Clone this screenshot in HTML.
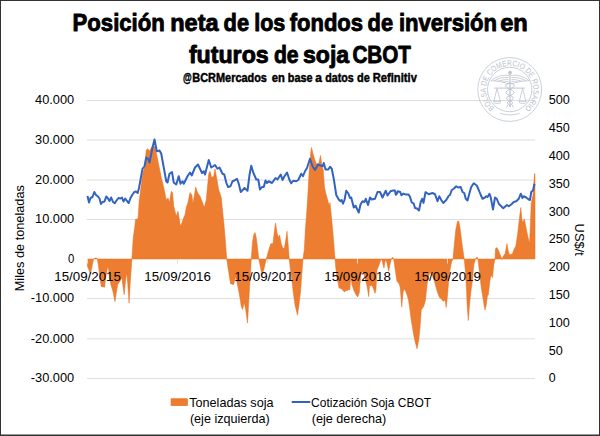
<!DOCTYPE html>
<html><head><meta charset="utf-8"><title>Posición neta de los fondos de inversión en futuros de soja CBOT</title>
<style>
html,body{margin:0;padding:0;background:#fff;}
body{width:600px;height:436px;overflow:hidden;position:relative;font-family:"Liberation Sans",sans-serif;}
svg{position:absolute;left:0;top:0;display:block;}
svg text{font-family:"Liberation Sans",sans-serif;fill:#000;}
</style></head><body>
<svg width="600" height="436" viewBox="0 0 600 436">
<rect x="0" y="0" width="600" height="436" fill="#fff"/>
<!-- gridlines -->
<line x1="87" x2="535" y1="100.5" y2="100.5" stroke="#dedede" stroke-width="1"/>
<line x1="87" x2="535" y1="140.0" y2="140.0" stroke="#dedede" stroke-width="1"/>
<line x1="87" x2="535" y1="180.0" y2="180.0" stroke="#dedede" stroke-width="1"/>
<line x1="87" x2="535" y1="219.5" y2="219.5" stroke="#dedede" stroke-width="1"/>
<line x1="87" x2="535" y1="298.6" y2="298.6" stroke="#dedede" stroke-width="1"/>
<line x1="87" x2="535" y1="338.8" y2="338.8" stroke="#dedede" stroke-width="1"/>
<line x1="87" x2="535" y1="378.5" y2="378.5" stroke="#dedede" stroke-width="1"/>


<g fill="none" stroke="#bcc4d0" stroke-width="0.8">
<circle cx="509.7" cy="89.5" r="31.9"/>
<circle cx="509.7" cy="89.5" r="22.2"/>
<path id="sealarc" d="M 494.62,107.79 A 23.7,23.7 0 1 1 524.78,107.79" stroke="none"/>
<text style="fill:#b8c0cc;font-size:8px" stroke="none"><textPath href="#sealarc" startOffset="0" textLength="116.2" lengthAdjust="spacingAndGlyphs">BOLSA DE COMERCIO DE ROSARIO</textPath></text>
<!-- caduceus staff -->
<line x1="510" y1="73" x2="510" y2="107" stroke-width="1.2"/>
<circle cx="510" cy="72.6" r="1.5" fill="#bcc4d0"/>
<!-- wings -->
<path d="M509,75.6 C503,74.4 496,76.5 490.8,80.8 C496,80.6 501,81.4 505.5,82.8 M508.5,77.6 C503,77 497.5,78.4 494,81 M508.5,79.6 C504,79.4 500,80.4 497.5,81.8 M508.5,81.4 C506,81.4 503.5,82 502,82.6" />
<path d="M511,75.6 C517,74.4 524,76.5 529.2,80.8 C524,80.6 519,81.4 514.5,82.8 M511.5,77.6 C517,77 522.5,78.4 526,81 M511.5,79.6 C516,79.4 520,80.4 522.5,81.8 M511.5,81.4 C514,81.4 516.5,82 518,82.6" />
<!-- snakes -->
<path d="M505.6,84.2 C507,82.6 513,83 514,85.4 C515,88.4 506,89.6 506,92.4 C506,95.2 513.4,95.6 513.4,98.2 C513.4,100.4 507.4,100.8 507.4,102.8 C507.4,104.2 510,104.6 510,105.6" stroke-width="1"/>
<path d="M514.4,84.2 C513,82.6 507,83 506,85.4 C505,88.4 514,89.6 514,92.4 C514,95.2 506.6,95.6 506.6,98.2 C506.6,100.4 512.6,100.8 512.6,102.8 C512.6,104.2 510,104.6 510,105.6" stroke-width="1"/>
<path d="M508,104.5 L506.5,107.6 M512,104.5 L513.5,107.6" />
<!-- beam -->
<path d="M494.5,88.1 L525.2,88.1" stroke-width="1"/>
<!-- pans -->
<path d="M497,88.4 L493.9,101.2 M497,88.4 L500.4,101.2 M493.2,101.4 L501.2,101.4 M493.6,102.6 C495.4,103.8 499,103.8 500.8,102.6" />
<path d="M522.6,88.4 L519.3,101.2 M522.6,88.4 L525.8,101.2 M518.6,101.4 L526.6,101.4 M519,102.6 C520.8,103.8 524.4,103.8 526.2,102.6" />
<path d="M500.4,113.4 C506,115.4 514,115.4 519.6,113.4" />
</g>

<!-- area series -->
<polygon fill="#ed7d31" stroke="#ea6c18" stroke-width="0.5" stroke-linejoin="round" points="87.4,259 87.4,266 90.5,274 93.6,259 94,259 95,258 96.7,258 97.4,259 99.1,270.6 101.2,286.5 104.6,287.2 105.6,277.5 106.7,272.7 107.7,265.8 108.8,270.6 110.8,284.4 112.9,291.3 115,301.6 116.3,292.7 117.7,284.4 120.1,281 121.8,277.5 122.9,285.8 124.2,294.7 125,285.8 126,277.5 126.8,272.7 127.8,284.4 129.1,303 130.1,284.4 131.1,270.6 131.9,259 133.25,237.5 135,225 135.5,219.5 138,218.75 139.25,200 140,195 142.5,175 144.5,167.5 146.25,150 148,148.75 149.5,151.25 150.75,148.75 152.5,146.25 154.5,146.25 156.25,152.5 158.75,165 161.25,177.5 163.75,187.5 166.25,200 168,198 169.5,202.5 171.25,191.25 172.5,192.5 173.75,206.25 176.25,216.25 178,211.25 180,223.75 180.75,226.25 183.75,217.5 185,215 186.25,207.5 188,202.5 190,192.5 191.75,195 193,203.75 195.75,187 197.5,192.5 200,196.25 202.5,202.5 204.25,207.5 206.25,200 208.75,173.75 210,171.25 211.75,177.5 213.75,176.25 215,168.75 217,180 218.75,190 220.5,195 221.25,197.5 222.5,210 224,225 225.3,240 226.75,259 228.75,272.5 230.5,283.75 233.75,284.5 235.5,276.25 237,282.5 239.5,295 241.25,306.25 242.5,309.5 244.25,302.5 245.75,310 247.5,323 248.25,310 249.25,292.5 250.5,272.5 251.25,259 252.5,242.5 253.75,235 255,232.5 256.25,237.5 257.5,247.5 258.75,259 260,265 262,275 263.75,270 266.25,259 268.75,250 270.75,243.75 273,243.75 274.25,232.5 275.5,223 277,232.5 278.25,237.5 279.5,235 281.25,243.75 283,248.75 284.5,247.5 285.75,240 287,231.25 288,242.5 289.25,259 290.75,272.5 292.5,285 293.25,292.5 295,305 297.5,315.2 299.25,302.5 300.5,292 301.75,275 303,259 304.25,250 305.5,228 306.75,212 308,192.5 309.25,170 310.5,155 311.5,147.5 313,153.75 314.5,158.75 316.25,163.75 318.75,163.75 320.5,155.5 322,166.25 323.25,170 324.5,187.5 326.25,195 328,201.25 329.25,206.25 330,202.5 331.25,215 332.5,228 333.75,242.5 335,259 336,270 337.3,279.3 339.1,288 341.3,288.7 342.7,290 344.4,292 346,290.7 348.7,289.7 349.7,290 350.9,276 352,284.7 354,290.7 356,294.7 357.7,296.9 359.3,292.7 360.75,275 362.5,271 364,274 365.5,280 366.7,284.7 367.7,290 368.7,296.7 369.6,284 370.5,286 371.6,285.3 372.9,287.3 375.1,293.3 376,288.7 376.9,270 378.7,266 380.7,260 381.7,259 382.7,263.3 384,268 384.9,262 386,260 387,263.3 388.7,271.3 390,264.7 391.3,259 392.7,257.3 393.7,259 394.7,266 396,275.3 397,281.3 398.7,283.3 400.2,287 401.75,307 403,292 404.7,288.7 406.7,294 408.4,299.3 409.25,305 411.25,320 413.25,332.5 415,341.25 417,348.75 418.75,340 420,327.5 421.25,310 423.75,306.25 425.5,300 427,285 428.25,277.5 430,272.5 432,275 433.75,278.75 435.75,286.25 437.5,292.5 439.5,297.5 441.25,298.75 443.25,301.25 445,300 446.25,307.5 447.5,295 448.75,280 450,270 451.75,261.25 453,259 454.25,245 455.75,230 457.5,221.25 458.75,221.25 460,227.5 461.25,237.5 462.5,247.5 464.25,259 465.5,272.5 466.75,295 467,302.5 468.25,320.5 469.5,305 470.75,292.5 472.5,280 473.75,265 475.5,259 477,257 478,259 479.5,272.5 481.25,287.5 482.5,295 484.25,306.25 485,310 486.25,305 487.5,295 488.25,295 490,280 491.25,275 492.5,277.5 493.75,265 495,259 495.5,248.75 497,247.5 498.75,251.25 500.75,256.25 502,259.5 503.25,256.25 505,253.75 507,243.75 508,250 509.5,255 512.5,253.75 514.25,248.75 515.75,246.25 517.5,235 519.25,220 520.75,207.5 522,220 523,222.5 524.25,218.75 525.75,226.25 527.5,235 529.5,243.75 530.5,222.5 531.25,202.5 533,195 534.5,173.75 535,173.75 535,259"/>
<!-- zero axis + ticks -->
<line x1="87" x2="535" y1="259" y2="259" stroke="#d9d9d9" stroke-width="1" opacity="0.0"/>
<line x1="87.5" x2="87.5" y1="259" y2="263.5" stroke="#dedede" stroke-width="1"/>
<line x1="177.5" x2="177.5" y1="259" y2="263.5" stroke="#dedede" stroke-width="1"/>
<line x1="267.5" x2="267.5" y1="259" y2="263.5" stroke="#dedede" stroke-width="1"/>
<line x1="357.5" x2="357.5" y1="259" y2="263.5" stroke="#dedede" stroke-width="1"/>
<line x1="447.5" x2="447.5" y1="259" y2="263.5" stroke="#dedede" stroke-width="1"/>

<!-- line series -->
<polyline fill="none" stroke="#3263c0" stroke-width="2" stroke-linejoin="round" stroke-linecap="butt" points="87.5,196 89,202.5 90.5,198 92.5,197 94.3,192 96,195 98,196.5 99.5,198.5 101,204 102.5,202 104.5,201.5 106.2,196.5 108,198.5 109.5,201 111.2,197.5 113,202 114.8,203.2 116.5,200.5 118.5,198 120.5,198.5 122,197.5 123.5,201.5 125.2,198.5 127,201 128.7,203 130.5,198 132.5,194.5 134.3,192 136,191.5 137.7,193 139,188 140.3,181 142.5,168.75 144.5,166.25 146.25,157.5 148,158.75 149.5,162.5 152.5,147.5 154.5,139.5 156.75,151.25 159.5,150.5 161.25,153.75 163.75,167.5 166.25,181.25 167.5,182.5 169.5,173.75 172,172 173.75,182.5 176.25,184.5 178.75,176.25 180.5,183.75 182.5,181.25 183.75,183.75 187.5,176.25 190,172.5 191.75,175.5 195,167.5 198,164.5 200,168.75 202,173 203.75,171.25 205,174.5 208.75,160 211.25,167.5 213.25,166.25 215,165 217.5,168.75 219.5,167.5 222.5,173.75 224.25,174.5 226.25,182.5 228,187 230.5,186.25 232.5,181.25 234.5,180.5 237,178.75 238.75,183.75 240.75,192 244.5,188 247.5,190.75 249.5,175 251.25,165.75 253.25,172.5 256.25,179.5 258.25,179.5 260,189.5 262,187 263.75,187 265.5,180.5 267,183 268.75,181.25 272,183 275.5,178 277.5,179.5 280.75,174.5 282.5,180 284.5,176.25 287,172.5 289.5,180 291.25,183.25 293.25,180.75 296.25,181.25 298.25,180 301.25,173.75 303,176.25 305,171.25 307,168 310,158.75 312.5,166.25 315,170 318,164.5 320.75,165.5 322.5,166.25 323.75,163 325.5,169.5 328.25,169.5 330,166.75 331.75,168.75 333.75,178.75 336.25,195 338.75,199.5 340.5,201.25 341.75,200 343,203.75 344.5,200 346.25,190.75 348.25,193.25 350,198 351.25,197.5 353.75,207.5 355.5,205.75 358.75,212.5 360.5,204.5 362.5,201.25 364.5,202 365.75,198.75 368,205 370,197.5 371.75,199.5 375,198.75 377.5,192 380,192 382.5,197.5 385.75,190.75 387.5,195.5 390.5,191.25 393,190.5 395,190.6 395.8,194.8 396.6,194 397.8,191.2 400.2,192 401.4,195.2 403.4,193.6 405.4,194.4 408.6,194.4 409.8,196.4 411.8,202.5 413.8,203.7 415,208.1 417,208.5 419,210.5 420.7,202 422.3,198.8 423.5,202.9 425.5,192.2 428.75,194.25 432.5,193 435,194.25 437.5,201.25 439.25,196.25 441.25,200 443.25,203 446.25,200 448.75,195.75 450,195 451.75,190 453.75,188.75 456.25,186.25 458.25,187.5 460.75,187 462.5,192 464.25,193 465.75,198.75 467.5,200.5 470,191.25 471.25,187 473.75,183.25 476.75,185.5 478.75,190 480.75,195 482.5,198.75 485,197.5 486.25,196.25 487.5,197 489.5,193.75 490.75,197.5 493,209.5 495,197.5 496.75,198.75 498.75,203.75 501.25,206.25 503.25,208.25 507,205 508.75,206.25 511.25,204.5 513.75,202 516.25,201.25 518.75,198.75 520.75,193.75 522.5,198 523.75,196.25 526.25,197.5 528.75,199.5 530,200 531.25,192 533,190.5 534.5,183.75"/>
<!-- axis labels -->
<g>
<text x="35.0" y="104.3" font-size="12.3" font-weight="normal" text-anchor="start" textLength="39.2" lengthAdjust="spacingAndGlyphs">40.000</text>
<text x="35.0" y="143.8" font-size="12.3" font-weight="normal" text-anchor="start" textLength="39.2" lengthAdjust="spacingAndGlyphs">30.000</text>
<text x="35.0" y="183.8" font-size="12.3" font-weight="normal" text-anchor="start" textLength="39.2" lengthAdjust="spacingAndGlyphs">20.000</text>
<text x="35.0" y="223.3" font-size="12.3" font-weight="normal" text-anchor="start" textLength="39.2" lengthAdjust="spacingAndGlyphs">10.000</text>
<text x="67.9" y="263.0" font-size="12.3" font-weight="normal" text-anchor="start" textLength="6.3" lengthAdjust="spacingAndGlyphs">0</text>
<text x="30.800000000000004" y="302.4" font-size="12.3" font-weight="normal" text-anchor="start" textLength="43.4" lengthAdjust="spacingAndGlyphs">-10.000</text>
<text x="30.800000000000004" y="342.6" font-size="12.3" font-weight="normal" text-anchor="start" textLength="43.4" lengthAdjust="spacingAndGlyphs">-20.000</text>
<text x="30.800000000000004" y="382.3" font-size="12.3" font-weight="normal" text-anchor="start" textLength="43.4" lengthAdjust="spacingAndGlyphs">-30.000</text>

<text x="548.8" y="104.4" font-size="12.3" font-weight="normal" text-anchor="start" textLength="21.1" lengthAdjust="spacingAndGlyphs">500</text>
<text x="548.8" y="132.2" font-size="12.3" font-weight="normal" text-anchor="start" textLength="21.1" lengthAdjust="spacingAndGlyphs">450</text>
<text x="548.8" y="160.0" font-size="12.3" font-weight="normal" text-anchor="start" textLength="21.1" lengthAdjust="spacingAndGlyphs">400</text>
<text x="548.8" y="187.8" font-size="12.3" font-weight="normal" text-anchor="start" textLength="21.1" lengthAdjust="spacingAndGlyphs">350</text>
<text x="548.8" y="215.6" font-size="12.3" font-weight="normal" text-anchor="start" textLength="21.1" lengthAdjust="spacingAndGlyphs">300</text>
<text x="548.8" y="243.4" font-size="12.3" font-weight="normal" text-anchor="start" textLength="21.1" lengthAdjust="spacingAndGlyphs">250</text>
<text x="548.8" y="271.2" font-size="12.3" font-weight="normal" text-anchor="start" textLength="21.1" lengthAdjust="spacingAndGlyphs">200</text>
<text x="548.8" y="299.0" font-size="12.3" font-weight="normal" text-anchor="start" textLength="21.1" lengthAdjust="spacingAndGlyphs">150</text>
<text x="548.8" y="326.8" font-size="12.3" font-weight="normal" text-anchor="start" textLength="21.1" lengthAdjust="spacingAndGlyphs">100</text>
<text x="548.8" y="354.6" font-size="12.3" font-weight="normal" text-anchor="start" textLength="14.0" lengthAdjust="spacingAndGlyphs">50</text>
<text x="548.8" y="382.4" font-size="12.3" font-weight="normal" text-anchor="start" textLength="6.9" lengthAdjust="spacingAndGlyphs">0</text>

<text x="54.3" y="281.4" font-size="12.3" font-weight="normal" text-anchor="start" textLength="66.6" lengthAdjust="spacingAndGlyphs">15/09/2015</text>
<text x="144.3" y="281.4" font-size="12.3" font-weight="normal" text-anchor="start" textLength="66.6" lengthAdjust="spacingAndGlyphs">15/09/2016</text>
<text x="234.3" y="281.4" font-size="12.3" font-weight="normal" text-anchor="start" textLength="66.6" lengthAdjust="spacingAndGlyphs">15/09/2017</text>
<text x="324.3" y="281.4" font-size="12.3" font-weight="normal" text-anchor="start" textLength="66.6" lengthAdjust="spacingAndGlyphs">15/09/2018</text>
<text x="414.3" y="281.4" font-size="12.3" font-weight="normal" text-anchor="start" textLength="66.6" lengthAdjust="spacingAndGlyphs">15/09/2019</text>

</g>
<!-- axis titles -->
<text transform="translate(24.2,291.3) rotate(-90)" font-size="12.6" textLength="106.2" lengthAdjust="spacingAndGlyphs">Miles de toneladas</text>
<text transform="translate(575.2,223.6) rotate(90)" font-size="12.6" textLength="32.2" lengthAdjust="spacingAndGlyphs">US$/t</text>
<!-- titles -->
<text x="72.58" y="31.0" font-size="24.8" font-weight="bold" text-anchor="start" textLength="92.2" lengthAdjust="spacingAndGlyphs" stroke="#000" stroke-width="0.9" stroke-linejoin="round">Posición</text>
<text x="170.18" y="31.0" font-size="24.8" font-weight="bold" text-anchor="start" textLength="48.4" lengthAdjust="spacingAndGlyphs" stroke="#000" stroke-width="0.9" stroke-linejoin="round">neta</text>
<text x="223.58" y="31.0" font-size="24.8" font-weight="bold" text-anchor="start" textLength="25.5" lengthAdjust="spacingAndGlyphs" stroke="#000" stroke-width="0.9" stroke-linejoin="round">de</text>
<text x="254.18" y="31.0" font-size="24.8" font-weight="bold" text-anchor="start" textLength="31.1" lengthAdjust="spacingAndGlyphs" stroke="#000" stroke-width="0.9" stroke-linejoin="round">los</text>
<text x="289.68" y="31.0" font-size="24.8" font-weight="bold" text-anchor="start" textLength="73.4" lengthAdjust="spacingAndGlyphs" stroke="#000" stroke-width="0.9" stroke-linejoin="round">fondos</text>
<text x="367.58" y="31.0" font-size="24.8" font-weight="bold" text-anchor="start" textLength="25.5" lengthAdjust="spacingAndGlyphs" stroke="#000" stroke-width="0.9" stroke-linejoin="round">de</text>
<text x="398.88" y="31.0" font-size="24.8" font-weight="bold" text-anchor="start" textLength="98.2" lengthAdjust="spacingAndGlyphs" stroke="#000" stroke-width="0.9" stroke-linejoin="round">inversión</text>
<text x="500.18" y="31.0" font-size="24.8" font-weight="bold" text-anchor="start" textLength="27.6" lengthAdjust="spacingAndGlyphs" stroke="#000" stroke-width="0.9" stroke-linejoin="round">en</text>
<text x="188.88" y="63.4" font-size="24.8" font-weight="bold" text-anchor="start" textLength="79.8" lengthAdjust="spacingAndGlyphs" stroke="#000" stroke-width="0.9" stroke-linejoin="round">futuros</text>
<text x="273.88" y="63.4" font-size="24.8" font-weight="bold" text-anchor="start" textLength="24.7" lengthAdjust="spacingAndGlyphs" stroke="#000" stroke-width="0.9" stroke-linejoin="round">de</text>
<text x="302.98" y="63.4" font-size="24.8" font-weight="bold" text-anchor="start" textLength="46.2" lengthAdjust="spacingAndGlyphs" stroke="#000" stroke-width="0.9" stroke-linejoin="round">soja</text>
<text x="352.38" y="63.4" font-size="24.8" font-weight="bold" text-anchor="start" textLength="58.5" lengthAdjust="spacingAndGlyphs" stroke="#000" stroke-width="0.9" stroke-linejoin="round">CBOT</text>
<text x="182.95" y="82.4" font-size="12.2" font-weight="bold" text-anchor="start" textLength="8.7" lengthAdjust="spacingAndGlyphs" stroke="#000" stroke-width="0.45" stroke-linejoin="round">@</text>
<text x="192.35" y="82.4" font-size="12.2" font-weight="bold" text-anchor="start" textLength="74.6" lengthAdjust="spacingAndGlyphs" stroke="#000" stroke-width="0.45" stroke-linejoin="round">BCRMercados</text>
<text x="271.75" y="82.4" font-size="12.2" font-weight="bold" text-anchor="start" textLength="13.1" lengthAdjust="spacingAndGlyphs" stroke="#000" stroke-width="0.45" stroke-linejoin="round">en</text>
<text x="287.75" y="82.4" font-size="12.2" font-weight="bold" text-anchor="start" textLength="24.8" lengthAdjust="spacingAndGlyphs" stroke="#000" stroke-width="0.45" stroke-linejoin="round">base</text>
<text x="315.35" y="82.4" font-size="12.2" font-weight="bold" text-anchor="start" textLength="6.7" lengthAdjust="spacingAndGlyphs" stroke="#000" stroke-width="0.45" stroke-linejoin="round">a</text>
<text x="325.25" y="82.4" font-size="12.2" font-weight="bold" text-anchor="start" textLength="28.5" lengthAdjust="spacingAndGlyphs" stroke="#000" stroke-width="0.45" stroke-linejoin="round">datos</text>
<text x="356.95" y="82.4" font-size="12.2" font-weight="bold" text-anchor="start" textLength="12.8" lengthAdjust="spacingAndGlyphs" stroke="#000" stroke-width="0.45" stroke-linejoin="round">de</text>
<text x="372.75" y="82.4" font-size="12.2" font-weight="bold" text-anchor="start" textLength="44.1" lengthAdjust="spacingAndGlyphs" stroke="#000" stroke-width="0.45" stroke-linejoin="round">Refinitiv</text>

<!-- legend -->
<rect x="171.1" y="398.8" width="16.2" height="6.6" fill="#ed7d31" stroke="#e8670f" stroke-width="0.7"/>
<text x="189.2" y="406.6" font-size="12.6" textLength="84.4" lengthAdjust="spacingAndGlyphs">Toneladas soja</text>
<text x="189.9" y="423.4" font-size="12.6" textLength="79.8" lengthAdjust="spacingAndGlyphs">(eje izquierda)</text>
<line x1="291.7" x2="310.3" y1="402" y2="402" stroke="#3263c0" stroke-width="2"/>
<text x="311.1" y="406.6" font-size="12.6" textLength="120" lengthAdjust="spacingAndGlyphs">Cotización Soja CBOT</text>
<text x="311.7" y="423.4" font-size="12.6" textLength="74.6" lengthAdjust="spacingAndGlyphs">(eje derecha)</text>
<!-- outer border -->
<rect x="0" y="0" width="600" height="1" fill="#333"/>
<rect x="0" y="0" width="1" height="436" fill="#333"/>
<rect x="599" y="0" width="1" height="436" fill="#333"/>
<rect x="0" y="434.5" width="600" height="1.5" fill="#333"/>
</svg>
</body></html>
